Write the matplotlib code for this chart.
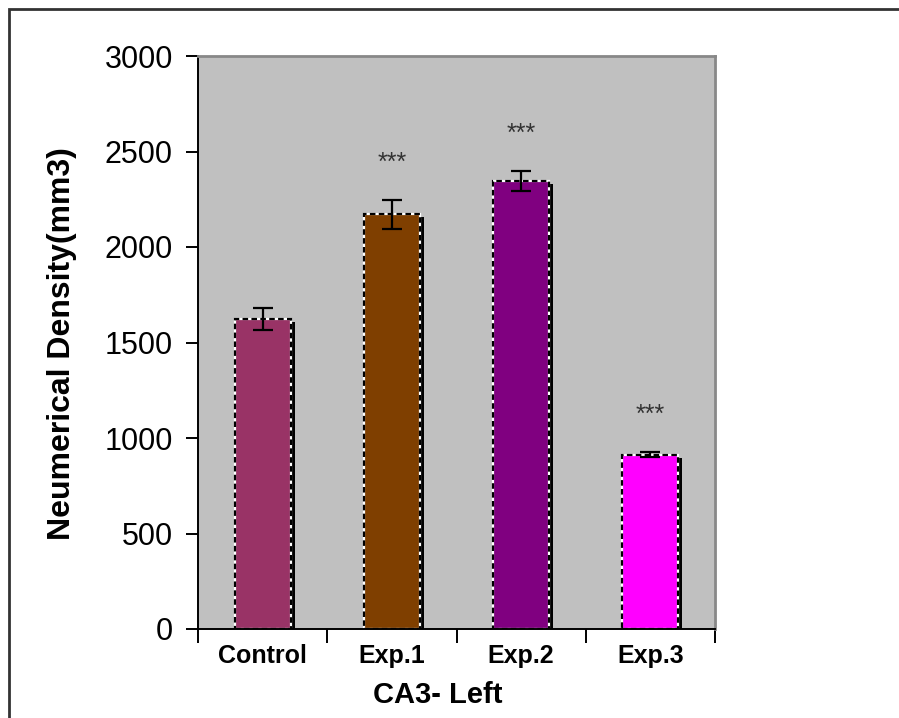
import matplotlib.pyplot as plt
import matplotlib.transforms as mtransforms
from matplotlib.patches import Rectangle
import numpy as np

groups = ['Control', 'Exp.1', 'Exp.2', 'Exp.3']
density = [1625, 2172, 2345, 912]
sem = [57, 76, 53, 14]
signif = ['', '***', '***', '***']
colors = ['#993366', '#7f3f00', '#800080', '#ff00ff']

plt.rcParams['font.family'] = ['Liberation Sans', 'DejaVu Sans']

fig = plt.figure(figsize=(8.99, 7.18), dpi=100)
ax = fig.add_axes([198 / 899, 89 / 718, 517 / 899, 573 / 718])
ax.set_facecolor('#c0c0c0')

x = np.arange(len(groups))
w = 0.435

# black drop shadow, shifted right/down a few pixels
shadow = ax.transData + mtransforms.ScaledTranslation(4 / 100, -3 / 100, fig.dpi_scale_trans)
ax.bar(x, density, w, color='black', transform=shadow, zorder=1)

# coloured bars with a dotted black/white edge
ax.bar(x, density, w, color=colors, edgecolor='white', linewidth=1.6, zorder=2)
ax.bar(x, density, w, fill=False, edgecolor='black', linewidth=1.6,
       linestyle=(0, (2.5, 1.5)), zorder=3)

ax.errorbar(x, density, yerr=sem, fmt='none', ecolor='black', elinewidth=1.6,
            capsize=7, capthick=1.6, zorder=4)

for xi, m, e, s in zip(x, density, sem, signif):
    if s:
        ax.text(xi, m + e + 195, s, ha='center', va='center', fontsize=18, color='#333333')

ax.set_xlim(-0.5, len(groups) - 0.5)
ax.set_ylim(0, 3000)
ax.set_yticks(np.arange(0, 3001, 500))
ax.tick_params(axis='y', direction='out', length=9, width=1.4, labelsize=22, pad=9, colors='black')
ax.set_xticks(x)
ax.set_xticklabels(groups, fontsize=18, fontweight='bold')
ax.set_xticks(np.arange(-0.5, len(groups), 1), minor=True)
ax.tick_params(axis='x', which='major', length=0, pad=11)
ax.tick_params(axis='x', which='minor', direction='out', length=10, width=1.4)

for side in ['top', 'right']:
    ax.spines[side].set_color('#888888')
    ax.spines[side].set_linewidth(2)
for side in ['left', 'bottom']:
    ax.spines[side].set_color('black')
    ax.spines[side].set_linewidth(1.4)

ax.set_ylabel('Neumerical Density(mm3)', fontsize=23, fontweight='bold')
ax.yaxis.set_label_coords(-(198 - 62) / 517, 0.5 + (573 / 2 - (629 - 341.5)) / 573)
ax.set_xlabel('CA3- Left', fontsize=21, fontweight='bold')
ax.xaxis.set_label_coords((438 - 198) / 517, -(695 - 629) / 573)
ax.xaxis.label.set_va('center')
ax.yaxis.label.set_va('center')

# outer chart frame
fig.patches.append(Rectangle((9 / 899, -0.05), 1.0, 1 - 9 / 718 + 0.05, transform=fig.transFigure,
                             fill=False, edgecolor='#333333', linewidth=2))

fig.savefig('out.png', dpi=100)
